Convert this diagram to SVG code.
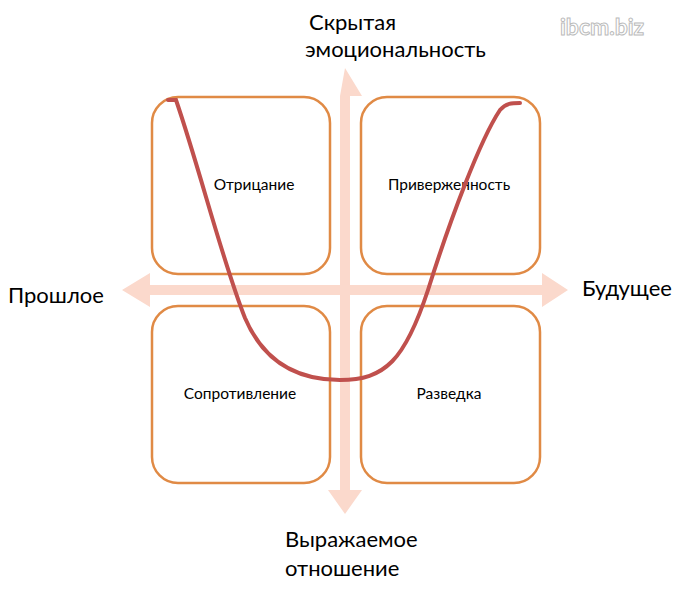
<svg xmlns="http://www.w3.org/2000/svg" width="684" height="590" viewBox="0 0 684 590">
<style>
.box{fill:#fff;stroke:#e08a45;stroke-width:2.5}
.ax{fill:#fbd9cc}
.big{font-family:Lato,"Liberation Sans",sans-serif;font-size:22px;fill:#000}
.sm{font-family:Lato,"Liberation Sans",sans-serif;font-size:15.5px;fill:#000;text-anchor:middle}
</style>
<rect width="684" height="590" fill="#fff"/>
<g id="axes">
<polygon class="ax" points="340,96 340,490 328,490 345,514 362,490 350,490 350,96 362,96 345,68"/>
<polygon class="ax" points="150,285 542,285 542,273 568,290 542,307 542,295 150,295 150,307 122,290 150,273"/>
</g>
<g id="n1"><rect class="box" x="152" y="97" width="178" height="177" rx="26"/><text class="sm" x="254" y="190">Отрицание</text></g>
<g id="n2"><rect class="box" x="361" y="97" width="179" height="177" rx="26"/><text class="sm" x="449" y="190">Приверженность</text></g>
<g id="n3"><rect class="box" x="152" y="306" width="178" height="177" rx="26"/><text class="sm" x="240" y="399">Сопротивление</text></g>
<g id="n4"><rect class="box" x="361" y="306" width="179" height="177" rx="26"/><text class="sm" x="449" y="399">Разведка</text></g>
<g id="connectors">
<path d="M168,100 L176,100 C200,170 222,260 245,318 C265,365 300,380 340,380 C385,380 405,360 428,290 C450,220 480,140 500,110 C506,103 512,103 520,103" fill="none" stroke="#c0504d" stroke-width="4" stroke-linecap="round"/>
</g>
<g id="labels">
<text class="big" x="309" y="30">Скрытая</text>
<text class="big" x="305" y="57">эмоциональность</text>
<text class="big" x="8" y="303">Прошлое</text>
<text class="big" x="582" y="296">Будущее</text>
<text class="big" x="285" y="547">Выражаемое</text>
<text class="big" x="285" y="576">отношение</text>
<text x="560" y="35" font-family="Lato,sans-serif" font-weight="bold" font-size="23" fill="#fff" stroke="#bbb" stroke-width="1">ibcm.biz</text>
</g>
</svg>
